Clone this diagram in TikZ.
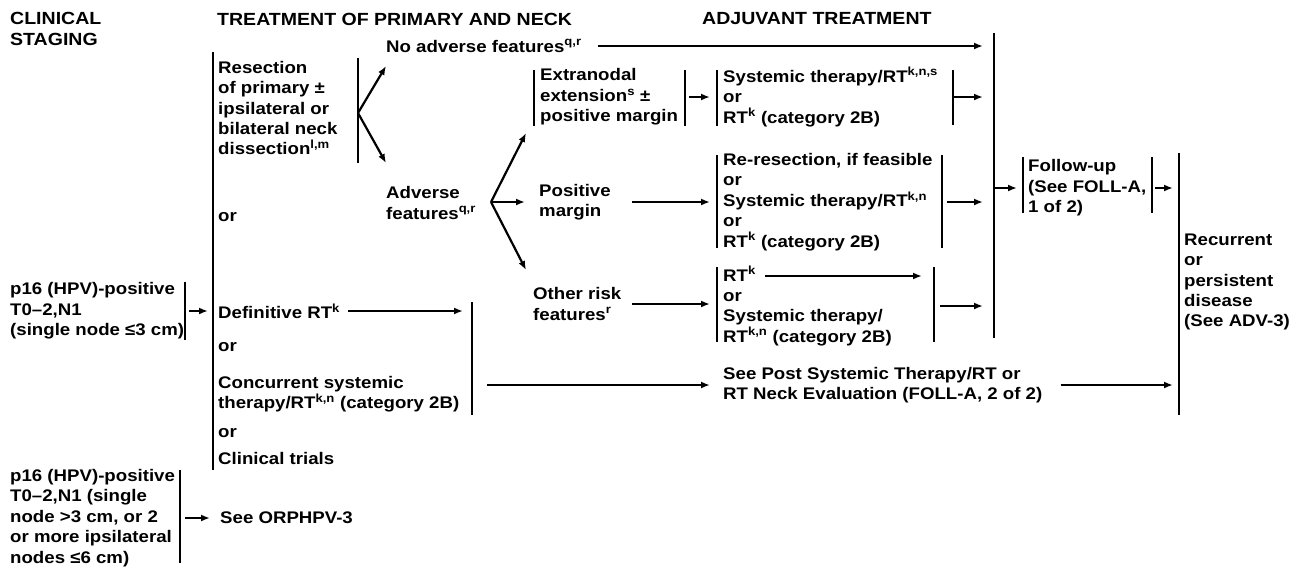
\documentclass[tikz,border=0pt]{standalone}
\usepackage{fontspec}
\setmainfont{Liberation Sans}[FakeStretch=1.11]
\usetikzlibrary{arrows.meta}

\tikzset{
  lbl/.style={anchor=west, align=left, inner sep=0pt},
  head/.style={lbl, font=\fontsize{17.6}{20.4}\selectfont\bfseries},
  arr/.style={-{Latex[length=9pt,width=7pt]}, line width=2.2pt},
  bar/.style={line width=2.8pt},
}

\begin{document}
\begin{tikzpicture}[x=1pt, y=-1pt, font=\fontsize{16.8}{20.4}\selectfont\bfseries]
  \useasboundingbox (0,0) rectangle (1301,571);

  % Column headings
  \node[head] (hdstage) at (10,29) {CLINICAL\\STAGING};
  \node[head] (hdprim) at (217,19) {TREATMENT OF PRIMARY AND NECK};
  \node[head] (hdadj) at (702,19) {ADJUVANT TREATMENT};

  % Clinical staging
  \node[lbl] (stageA) at (10,311) {p16 (HPV)-positive\\T0–2,N1\\(single node ≤3 cm)};
  \node[lbl] (stageB) at (10,518)
    {p16 (HPV)-positive\\T0–2,N1 (single\\node >3 cm, or 2\\or more ipsilateral\\nodes ≤6 cm)};

  % Primary and neck
  \node[lbl] (resect) at (218,108)
    {Resection\\of primary ±\\ipsilateral or\\bilateral neck\\dissection\textsuperscript{l,m}};
  \node[lbl] (or1) at (218,217) {or};
  \node[lbl] (defrt) at (218,311) {Definitive RT\textsuperscript{k}};
  \node[lbl] (or2) at (218,347) {or};
  \node[lbl] (concur) at (218,394) {Concurrent systemic\\therapy/RT\textsuperscript{k,n} (category 2B)};
  \node[lbl] (or3) at (218,433) {or};
  \node[lbl] (trials) at (218,458) {Clinical trials};
  \node[lbl] (orph) at (220,518) {See ORPHPV-3};

  \node[lbl] (noadv) at (386,46) {No adverse features\textsuperscript{q,r}};
  \node[lbl] (adverse) at (386,203) {Adverse\\features\textsuperscript{q,r}};
  \node[lbl] (extra) at (540,97) {Extranodal\\extension\textsuperscript{s} ±\\positive margin};
  \node[lbl] (posmar) at (539,202) {Positive\\margin};
  \node[lbl] (other) at (533,304) {Other risk\\features\textsuperscript{r}};

  % Adjuvant treatment
  \node[lbl] (sysA) at (723,97) {Systemic therapy/RT\textsuperscript{k,n,s}\\or\\RT\textsuperscript{k} (category 2B)};
  \node[lbl] (reres) at (723,202)
    {Re-resection, if feasible\\or\\Systemic therapy/RT\textsuperscript{k,n}\\or\\RT\textsuperscript{k} (category 2B)};
  \node[lbl] (rtk) at (723,306) {RT\textsuperscript{k}\\or\\Systemic therapy/\\RT\textsuperscript{k,n} (category 2B)};
  \node[lbl] (seepost) at (723,385) {See Post Systemic Therapy/RT or\\RT Neck Evaluation (FOLL-A, 2 of 2)};
  \node[lbl] (follow) at (1028,188) {Follow-up\\(See FOLL-A,\\1 of 2)};
  \node[lbl] (recur) at (1184,282) {Recurrent\\or\\persistent\\disease\\(See ADV-3)};

  % Bar ends
  \coordinate (stAT) at (185,282);  \coordinate (stAB) at (185,340);
  \coordinate (stBT) at (180,470);  \coordinate (stBB) at (180,563);
  \coordinate (resT) at (213,52);   \coordinate (resB) at (213,470);
  \coordinate (forkT) at (358,58);  \coordinate (forkB) at (358,163);
  \coordinate (fork) at (358,113);
  \coordinate (advfork) at (491,202);
  \coordinate (advup) at (526,133); \coordinate (advdn) at (526,270);
  \coordinate (colM) at (632,0);
  \coordinate (extLT) at (534,70);  \coordinate (extLB) at (534,126);
  \coordinate (extRT) at (685,70);  \coordinate (extRB) at (685,126);
  \coordinate (sysLT) at (717,70);  \coordinate (sysLB) at (717,126);
  \coordinate (sysRT) at (953,70);  \coordinate (sysRB) at (953,125);
  \coordinate (reLT) at (717,155);  \coordinate (reLB) at (717,248);
  \coordinate (reRT) at (942,155);  \coordinate (reRB) at (942,248);
  \coordinate (rtLT) at (717,267);  \coordinate (rtLB) at (717,342);
  \coordinate (rtRT) at (934,267);  \coordinate (rtRB) at (934,342);
  \coordinate (rtkln) at (765,276);
  \coordinate (defT) at (472,302);  \coordinate (defB) at (472,415);
  \coordinate (bigT) at (994,33);   \coordinate (bigB) at (994,338);
  \coordinate (folLT) at (1023,157); \coordinate (folLB) at (1023,213);
  \coordinate (folRT) at (1152,157); \coordinate (folRB) at (1152,213);
  \coordinate (recT) at (1179,153); \coordinate (recB) at (1179,415);

  % Bars
  \foreach \a/\b in {stAT/stAB, stBT/stBB, resT/resB, forkT/forkB, extLT/extLB, extRT/extRB,
                     sysLT/sysLB, sysRT/sysRB, reLT/reLB, reRT/reRB, rtLT/rtLB, rtRT/rtRB,
                     defT/defB, bigT/bigB, folLT/folLB, folRT/folRB, recT/recB}
    \draw[bar] (\a) -- (\b);

  % Arrows
  \draw[arr] ([xshift=4pt]stAT |- stageA.east) -- ([xshift=-5pt]resT |- stageA.east);
  \draw[arr] ([xshift=5pt]stBT |- orph.west) -- ([xshift=-10pt]orph.west);
  \draw[arr] (fork) -- ([yshift=-20pt]noadv.west);
  \draw[arr] (fork) -- ([yshift=40pt]adverse.west);
  \draw[arr] ([xshift=16pt]noadv.east) -- ([xshift=-11pt]bigT |- noadv.east);
  \draw[arr] (advfork) -- (advup);
  \draw[arr] (advfork) -- ([xshift=-14pt]posmar.west);
  \draw[arr] (advfork) -- (advdn);
  \draw[arr] ([xshift=4pt]extRT |- extra.east) -- ([xshift=-7pt]sysLT |- extra.east);
  \draw[arr] (sysRT |- sysA.east) -- ([xshift=-11pt]bigT |- sysA.east);
  \draw[arr] (colM |- posmar.east) -- ([xshift=-7pt]reLT |- posmar.east);
  \draw[arr] ([xshift=5pt]reRT |- reres.east) -- ([xshift=-11pt]bigT |- reres.east);
  \draw[arr] (colM |- other.east) -- ([xshift=-7pt]rtLT |- other.east);
  \draw[arr] (rtkln) -- ([xshift=-12pt]rtRT |- rtkln);
  \draw[arr] ([xshift=6pt]rtRT |- rtk.east) -- ([xshift=-11pt]bigT |- rtk.east);
  \draw[arr] (bigT |- follow.west) -- ([xshift=-6pt]folLT |- follow.west);
  \draw[arr] ([xshift=3pt]folRT |- follow.east) -- ([xshift=-6pt]recT |- follow.east);
  \draw[arr] ([xshift=8pt]defrt.east) -- ([xshift=-9pt]defT |- defrt.east);
  \draw[arr] ([xshift=15pt]defT |- seepost.west) -- ([xshift=-13pt]seepost.west);
  \draw[arr] ([xshift=18pt]seepost.east) -- ([xshift=-6pt]recT |- seepost.east);
\end{tikzpicture}
\end{document}
